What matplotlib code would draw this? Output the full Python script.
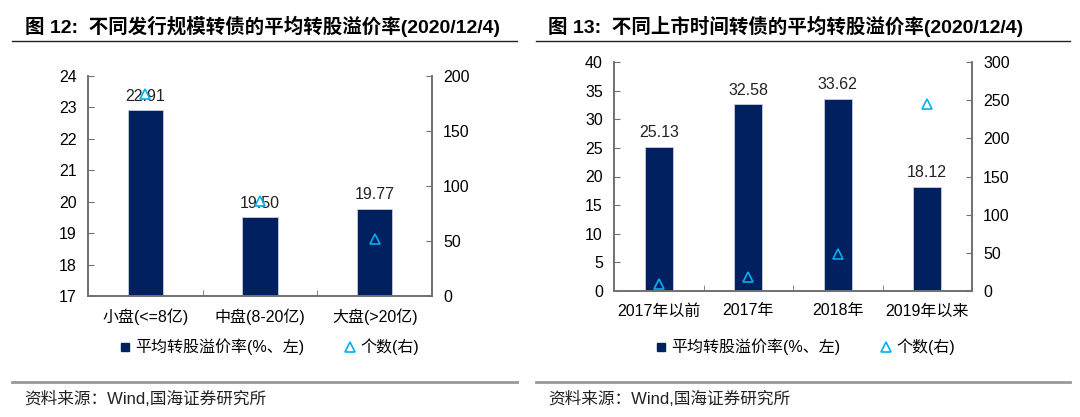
import matplotlib
matplotlib.use("Agg")
import matplotlib.pyplot as plt
from matplotlib.lines import Line2D

plt.rcParams['font.family'] = ['Liberation Sans', 'Noto Sans CJK SC', 'DejaVu Sans']

# data
size_cats = ["小盘(<=8亿)", "中盘(8-20亿)", "大盘(>20亿)"]
size_premium = [22.91, 19.50, 19.77]
size_count = [184, 86, 52]

year_cats = ["2017年以前", "2017年", "2018年", "2019年以来"]
year_premium = [25.13, 32.58, 33.62, 18.12]
year_count = [9, 18, 49, 245]

title_left = "图 12:  不同发行规模转债的平均转股溢价率(2020/12/4)"
title_right = "图 13:  不同上市时间转债的平均转股溢价率(2020/12/4)"
source = "资料来源：Wind,国海证券研究所"
bar_name = "平均转股溢价率(%、左)"
count_name = "个数(右)"

NAVY = "#002060"
CYAN = "#00B0F0"
SPINE = "#707070"

W, H = 1080, 417
fig = plt.figure(figsize=(W / 100, H / 100), dpi=100)


def px(x0, y0, x1, y1):
    # pixel box -> figure fraction
    return [x0 / W, 1 - y1 / H, (x1 - x0) / W, (y1 - y0) / H]


def panel(box, cats, prem, cnt, ylim, yticks, ylim2, yticks2, leg_x, leg_y):
    ax = fig.add_axes(px(*box))
    n = len(cats)
    x = list(range(n))
    ax.bar(x, [p - ylim[0] for p in prem], 0.31, bottom=ylim[0], color=NAVY,
           edgecolor="#c8cde0", linewidth=0.6, zorder=2)
    for xi, p in zip(x, prem):
        ax.text(xi, p + (ylim[1] - ylim[0]) * 0.03, "%.2f" % p, ha="center",
                va="bottom", fontsize=11.5, color="#222222", zorder=3)
    ax.set_xlim(-0.5, n - 0.5)
    ax.set_ylim(*ylim)
    ax.set_yticks(yticks)
    ax.set_xticks(x)
    ax.set_xticklabels(cats, fontsize=11.5)
    ax.set_xticks([i + 0.5 for i in range(n - 1)], minor=True)
    ax.tick_params(axis="x", which="major", length=0, pad=9)
    ax.tick_params(axis="x", which="minor", direction="in", length=4, color=SPINE)
    ax.tick_params(axis="y", direction="in", length=4, color=SPINE, labelsize=11.5, pad=8)
    for s in ["left", "bottom", "right"]:
        ax.spines[s].set_color(SPINE)
        ax.spines[s].set_linewidth(1.2)
    ax.spines["top"].set_visible(False)

    ax2 = ax.twinx()
    ax2.plot(x, cnt, linestyle="none", marker="^", markersize=7,
             markerfacecolor="none", markeredgecolor=CYAN, markeredgewidth=1.2, zorder=4)
    ax2.set_ylim(*ylim2)
    ax2.set_yticks(yticks2)
    ax2.tick_params(axis="y", direction="in", length=4, color=SPINE, labelsize=11.5, pad=8)
    for s in ["left", "bottom", "right"]:
        ax2.spines[s].set_color(SPINE)
        ax2.spines[s].set_linewidth(1.2)
    ax2.spines["top"].set_visible(False)

    handles = [Line2D([], [], linestyle="none", marker="s", markersize=6, color=NAVY),
               Line2D([], [], linestyle="none", marker="^", markersize=7,
                      markerfacecolor="none", markeredgecolor=CYAN, markeredgewidth=1.2)]
    fig.legend(handles, [bar_name, count_name], ncol=2, frameon=False,
               loc="center", bbox_to_anchor=(leg_x / W, 1 - leg_y / H),
               fontsize=11.5, handletextpad=0.1, columnspacing=2.4, handlelength=1.0)
    return ax


panel((88, 76, 432, 296), size_cats, size_premium, size_count,
      (17, 24), range(17, 25), (0, 200), range(0, 201, 50), 268, 347)
panel((614, 62, 972, 291), year_cats, year_premium, year_count,
      (0, 40), range(0, 41, 5), (0, 300), range(0, 301, 50), 804, 347)

# titles, rules and sources
fig.text(25 / W, 1 - 26 / H, title_left, fontsize=14, fontweight="bold", va="center")
fig.text(548 / W, 1 - 26 / H, title_right, fontsize=14, fontweight="bold", va="center")
for x0, x1 in [(12, 517), (536, 1070)]:
    fig.add_artist(Line2D([x0 / W, x1 / W], [1 - 41 / H] * 2, color="#222222", linewidth=1))
    fig.add_artist(Line2D([x0 / W, x1 / W], [1 - 382 / H] * 2, color="#999999", linewidth=2))
fig.text(24 / W, 1 - 399 / H, source, fontsize=12, va="center", color="#222222")
fig.text(548 / W, 1 - 399 / H, source, fontsize=12, va="center", color="#222222")

fig.savefig("out.png", dpi=100)
